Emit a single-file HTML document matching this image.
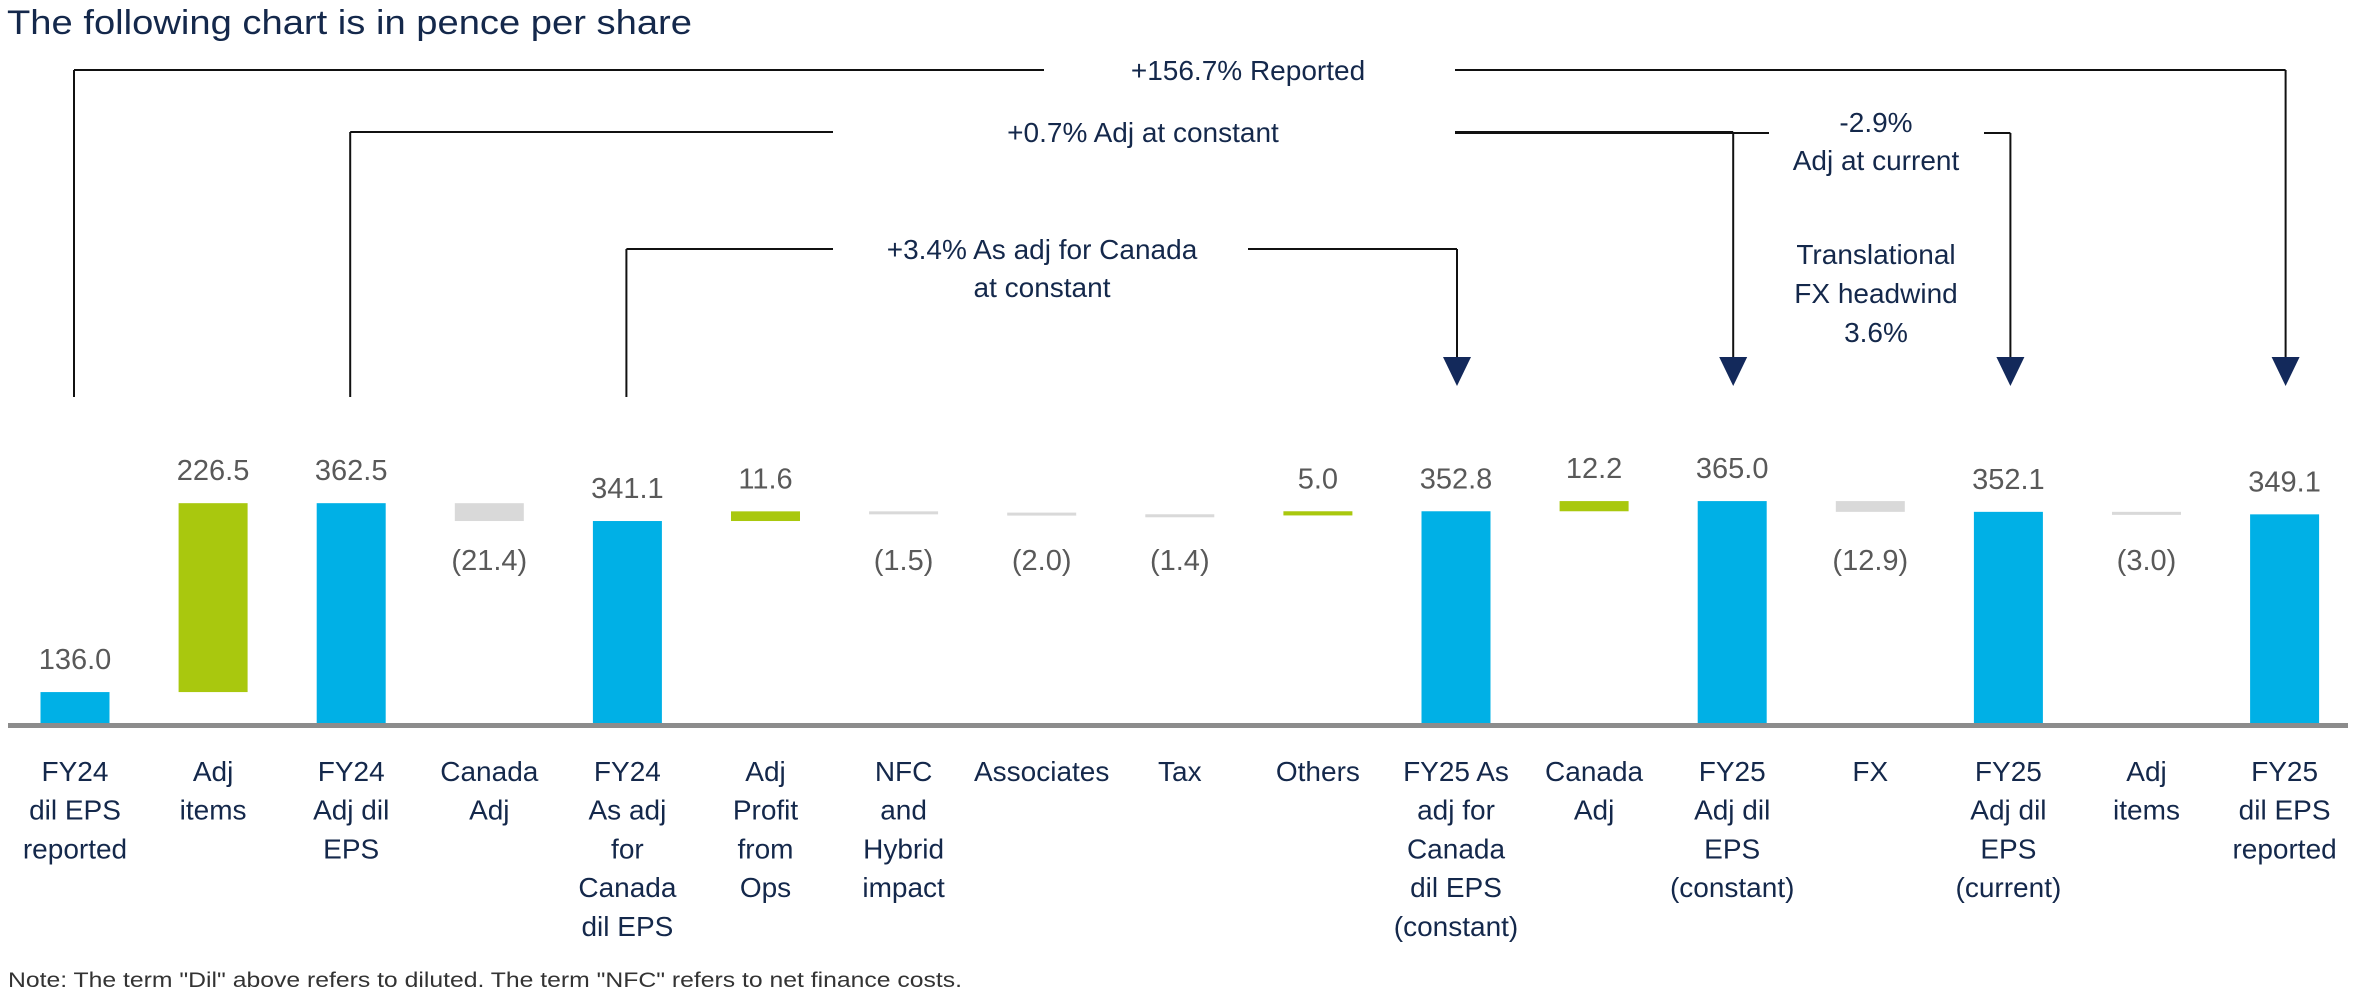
<!DOCTYPE html>
<html><head><meta charset="utf-8"><style>
html,body{margin:0;padding:0;background:#fff;}
svg{display:block;font-family:"Liberation Sans",sans-serif;}
</style></head><body>
<svg id="chart" width="2357" height="1000" viewBox="0 0 2357 1000">
<text x="7" y="34" font-size="34" fill="#14284b" textLength="685" lengthAdjust="spacingAndGlyphs">The following chart is in pence per share</text>
<g id="brackets"></g>
<g id="bars"></g>
<g id="labels"></g>
<rect x="8" y="723" width="2340" height="5" fill="#8c8c8c"/>
<text x="8" y="987" font-size="21" fill="#333" textLength="954" lengthAdjust="spacingAndGlyphs">Note: The term "Dil" above refers to diluted. The term "NFC" refers to net finance costs.</text>
</svg>
<script>
const categories = [["FY24","dil EPS","reported"],["Adj","items"],["FY24","Adj dil","EPS"],["Canada","Adj"],["FY24","As adj","for","Canada","dil EPS"],["Adj","Profit","from","Ops"],["NFC","and","Hybrid","impact"],["Associates"],["Tax"],["Others"],["FY25 As","adj for","Canada","dil EPS","(constant)"],["Canada","Adj"],["FY25","Adj dil","EPS","(constant)"],["FX"],["FY25","Adj dil","EPS","(current)"],["Adj","items"],["FY25","dil EPS","reported"]];
const values = [136.0, 226.5, 362.5, -21.4, 341.1, 11.6, -1.5, -2.0, -1.4, 5.0, 352.8, 12.2, 365.0, -12.9, 352.1, -3.0, 349.1];
const isTotal = [true,false,true,false,true,false,false,false,false,false,true,false,true,false,true,false,true];
const brackets = [
  {label:["+156.7% Reported"], from:0, to:16},
  {label:["+0.7% Adj at constant"], from:2, to:12},
  {label:["+3.4% As adj for Canada","at constant"], from:4, to:10}
];
const NS="http://www.w3.org/2000/svg";
function X(i){return 75+i*138.1;}
function Y(v){return 805.5-v*0.834;}
const baseY=723, bw=69;
function mk(tag,attrs,parent){const e=document.createElementNS(NS,tag);for(const k in attrs)e.setAttribute(k,attrs[k]);parent.appendChild(e);return e;}
const gb=document.getElementById('bars'), gl=document.getElementById('labels'), gk=document.getElementById('brackets');
let run=0;
values.forEach((v,i)=>{
  let y0,y1,col;
  if(isTotal[i]){run=v;y0=Y(v);y1=baseY;col="#00b0e6";}
  else{const a=run,b=run+v;run=b;y0=Y(Math.max(a,b));y1=Y(Math.min(a,b));col=v>=0?"#a9c80e":"#d9d9d9";}
  const r=mk('rect',{x:X(i)-bw/2,y:y0,width:bw,height:Math.max(3,y1-y0),fill:col},gb);
  
  
  const neg=!isTotal[i]&&v<0;
  const t=mk('text',{x:X(i),y:neg?Math.max(y1+48,570):y0-23,'font-size':29,fill:'#595959','text-anchor':'middle'},gb);
  t.textContent=neg?'('+Math.abs(v).toFixed(1)+')':v.toFixed(1);
  
  
  const c=mk('text',{x:X(i),'font-size':28,fill:'#14284b','text-anchor':'middle'},gl);
  
  
  categories[i].forEach((ln,j)=>{const s=mk('tspan',{x:X(i),y:781+j*38.7},c);s.textContent=ln;});
});
const lineYs=[70,132,249], textX=[1248,1143,1042], gapL=[1044,833,833], gapR=[1455,1455,1248];
function line(x1,y1,x2,y2,name){const l=mk('line',{x1,y1,x2,y2,stroke:'#111','stroke-width':2},gk);}
function arrow(x,name){const p=mk('polygon',{points:(x-14)+',357 '+(x+14)+',357 '+x+',386',fill:'#13295b'},gk);}
brackets.forEach((b,k)=>{
  const y=lineYs[k], xl=X(b.from)-1, xr=X(b.to)+1;
  line(xl,y,xl,397,'bracket-left-'+k);
  line(xl,y,gapL[k],y,'bracket-top-left-'+k);
  line(gapR[k],y,xr,y,'bracket-top-right-'+k);
  line(xr,y,xr,360,'bracket-right-'+k);
  arrow(xr,'arrow-'+k);
  b.label.forEach((ln,j)=>{const t=mk('text',{x:textX[k],y:y+10+j*38,'font-size':28,fill:'#14284b','text-anchor':'middle'},gk);t.textContent=ln;});
});
const xc2=X(14)+2;
line(1455,133,1769,133,'current-bracket-left');
line(1984,133,xc2,133,'current-bracket-right');
line(xc2,133,xc2,360,'current-bracket-drop');
arrow(xc2,'arrow-current');
[["-2.9%",132],["Adj at current",170],["Translational",264],["FX headwind",303],["3.6%",342]].forEach(([s,y],j)=>{
  const t=mk('text',{x:1876,y:y,'font-size':28,fill:'#14284b','text-anchor':'middle'},gk);t.textContent=s;
  
  
});
</script>
</body></html>
